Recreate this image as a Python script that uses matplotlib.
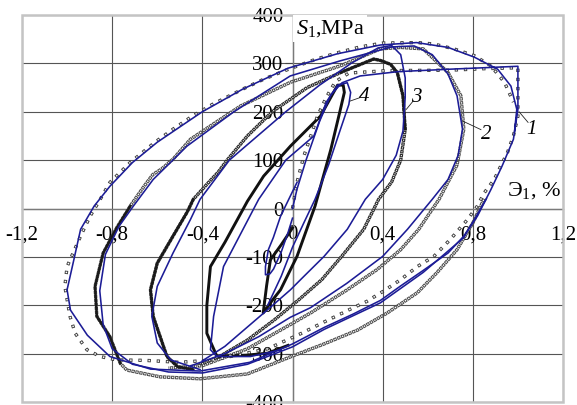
import numpy as np
import matplotlib as mpl
mpl.use('Agg')
import matplotlib.pyplot as plt
from matplotlib.patches import Rectangle
from matplotlib.ticker import FuncFormatter

plt.rcParams['font.family'] = ['Liberation Serif', 'DejaVu Serif']
plt.rcParams['mathtext.fontset'] = 'custom'
plt.rcParams['mathtext.rm'] = 'Liberation Serif'
plt.rcParams['mathtext.it'] = 'Liberation Serif:italic'
plt.rcParams['axes.unicode_minus'] = False
plt.rcParams['lines.scale_dashes'] = False

# (strain %, stress MPa)
loop1_model = [(0.0, 0), (0.02, 40), (0.06, 100), (0.12, 180), (0.17, 235), (0.22, 260),
               (0.3, 274), (0.47, 283), (0.7, 288), (1.0, 294), (1.0, 250), (1.0, 205),
               (0.98, 143), (0.93, 88), (0.88, 39), (0.82, -16), (0.76, -57), (0.69, -92),
               (0.58, -128), (0.48, -160), (0.39, -190), (0.27, -218), (0.14, -246),
               (0.0, -280), (-0.19, -318), (-0.41, -336), (-0.63, -332), (-0.81, -306),
               (-0.91, -262), (-0.985, -210), (-1.0, -168), (-0.97, -106), (-0.94, -43),
               (-0.88, 5), (-0.81, 46), (-0.71, 95), (-0.6, 137), (-0.47, 178), (-0.4, 200),
               (-0.22, 247), (-0.02, 290), (0.2, 320), (0.39, 338), (0.55, 343), (0.69, 333),
               (0.806, 313), (0.91, 288), (0.969, 253), (0.995, 205), (0.985, 160)]

loop1_test = [(0.0, 0), (0.02, 54), (0.05, 108), (0.07, 135), (0.11, 190), (0.15, 230),
              (0.19, 262), (0.25, 280), (0.42, 285), (0.7, 286), (0.85, 289), (1.0, 291),
              (1.0, 233), (1.0, 191), (0.98, 150), (0.954, 116), (0.924, 88), (0.895, 60),
              (0.85, 32), (0.82, 5), (0.776, -23), (0.7, -64), (0.627, -99), (0.554, -120),
              (0.48, -147), (0.413, -168), (0.33, -192), (0.27, -205), (0.13, -237),
              (0.04, -258), (-0.11, -290), (-0.35, -313), (-0.5, -318), (-0.65, -314),
              (-0.78, -313), (-0.853, -306), (-0.912, -292), (-0.964, -258), (-0.987, -223),
              (-1.0, -188), (-1.01, -161), (-1.0, -120), (-0.94, -57), (-0.898, -16),
              (-0.853, 19), (-0.81, 54), (-0.72, 95), (-0.61, 137), (-0.53, 164),
              (-0.444, 191), (-0.356, 215), (-0.22, 247), (-0.129, 267), (-0.04, 284),
              (0.1, 308), (0.2, 322), (0.3, 334), (0.4, 342), (0.554, 343), (0.627, 340),
              (0.716, 330), (0.806, 316), (0.88, 295), (0.94, 261), (0.98, 220)]

loop2_model = [(0.86, 20), (0.76, -60), (0.58, -132), (0.39, -195), (0.14, -250),
               (0.0, -286), (-0.2, -322), (-0.4, -340), (-0.55, -338), (-0.71, -322),
               (-0.8, -290), (-0.84, -240), (-0.855, -170), (-0.83, -95), (-0.77, -37),
               (-0.706, 5), (-0.618, 60), (-0.468, 129), (-0.26, 200), (-0.01, 274),
               (0.21, 305), (0.44, 334), (0.54, 336), (0.62, 318), (0.69, 278), (0.73, 233),
               (0.754, 164), (0.735, 110), (0.69, 60), (0.62, 19), (0.51, -43), (0.4, -99),
               (0.24, -155), (0.08, -205), (-0.01, -225), (-0.15, -265), (-0.3, -300),
               (-0.45, -325)]

loop2_test = [(0.85, 20), (0.8, -30), (0.73, -85), (0.64, -133), (0.554, -174),
              (0.42, -216), (0.29, -251), (0.14, -280), (0.0, -305), (-0.2, -342),
              (-0.41, -352), (-0.587, -348), (-0.735, -334), (-0.764, -320), (-0.81, -265),
              (-0.868, -223), (-0.876, -161), (-0.84, -92), (-0.78, -40), (-0.72, 5),
              (-0.66, 45), (-0.62, 70), (-0.58, 82), (-0.53, 102), (-0.453, 143),
              (-0.35, 175), (-0.23, 212), (-0.009, 261), (0.213, 295), (0.39, 330),
              (0.48, 333), (0.58, 330), (0.69, 281), (0.747, 233), (0.76, 164), (0.73, 90),
              (0.65, 19), (0.56, -43), (0.48, -85), (0.376, -126), (0.243, -168),
              (0.08, -216), (-0.01, -240), (-0.2, -290), (-0.4, -325), (-0.55, -330)]

loop3_model = [(-0.41, -333), (-0.54, -313), (-0.6, -278), (-0.624, -223), (-0.6, -161),
               (-0.53, -92), (-0.453, -23), (-0.41, 19), (-0.28, 100), (-0.03, 200),
               (0.12, 255), (0.26, 300), (0.38, 332), (0.44, 337), (0.48, 318), (0.5, 270),
               (0.5, 230), (0.49, 160), (0.46, 110), (0.4, 60), (0.323, 19), (0.243, -43),
               (0.14, -99), (0.036, -147), (-0.009, -168), (-0.1, -205), (-0.2, -245),
               (-0.3, -285), (-0.4, -315)]

loop3_test = [(-0.44, -333), (-0.51, -327), (-0.557, -306), (-0.587, -265), (-0.618, -223),
              (-0.63, -168), (-0.6, -113), (-0.53, -57), (-0.468, -8), (-0.44, 19),
              (-0.38, 50), (-0.33, 75), (-0.29, 100), (-0.2, 150), (-0.09, 200), (0.065, 250),
              (0.213, 281), (0.36, 309), (0.39, 306), (0.435, 298), (0.465, 281), (0.49, 233),
              (0.5, 164), (0.48, 100), (0.44, 55), (0.382, 19), (0.316, -43), (0.218, -99),
              (0.13, -147), (0.027, -189), (-0.08, -230), (-0.2, -272), (-0.32, -305),
              (-0.42, -325)]

loop4_model_start = [(0.02, 54), (0.0, 35), (-0.053, -16), (-0.085, -60), (-0.107, -85),
                     (-0.12, -120), (-0.12, -137), (-0.1, -135), (-0.084, -125), (-0.05, -90),
                     (-0.02, -50), (0.0, -20)]

loop4_model = [(-0.11, -200), (-0.05, -140), (0.0, -80), (0.05, -30), (0.1, 19), (0.16, 90),
               (0.21, 160), (0.25, 215), (0.258, 240), (0.243, 260), (0.2, 255), (0.15, 220),
               (0.095, 150), (-0.03, 100), (-0.15, 19), (-0.306, -120), (-0.35, -223),
               (-0.364, -292), (-0.335, -306), (-0.187, -306), (-0.05, -292)]

loop4_test = [(0.0, -40), (-0.05, -75), (-0.098, -106), (-0.115, -160), (-0.13, -216),
              (-0.09, -190), (-0.053, -168), (0.02, -99), (0.1, 5), (0.17, 122), (0.21, 200),
              (0.23, 240), (0.225, 255), (0.2, 255), (0.124, 191), (-0.009, 129),
              (-0.128, 67), (-0.2, 15), (-0.3, -70), (-0.364, -120), (-0.38, -200),
              (-0.38, -258), (-0.335, -306), (-0.2, -303), (-0.11, -299), (-0.02, -283)]

# stretches of the test curves where the squares merge into a solid black band
dark_parts = [(loop2_test, 13, 20), (loop3_test, 0, 10), (loop3_test, 16, 23)]

curve_labels = ['1', '2', '3', '4']
label_pos = [(1.06, 163), (0.86, 153), (0.55, 230), (0.32, 232)]
leader_from = [(1.005, 200), (0.754, 181), (0.505, 205), (0.255, 222)]
leader_to = [(1.045, 178), (0.836, 163), (0.535, 222), (0.298, 229)]

x_ticks = [-1.2, -0.8, -0.4, 0, 0.4, 0.8, 1.2]
y_ticks = [-400, -300, -200, -100, 0, 100, 200, 300, 400]

BLUE = '#1c1c96'


def xy(points):
    a = np.array(points, dtype=float)
    return a[:, 0], a[:, 1]


def model(ax, points):
    x, s = xy(points)
    ax.plot(x, s, color=BLUE, lw=1.15, solid_joinstyle='round', zorder=4)


def squares(ax, points, color, lw, on, off, inner):
    # open square markers faked by a dark dashed line with a thinner white one on top
    x, s = xy(points)
    period = on + off
    d = (lw - inner) / 2
    ax.plot(x, s, color=color, lw=lw, ls=(0, (on, off)), zorder=3)
    ax.plot(x, s, color='white', lw=inner,
            ls=(period - d, (on - 2 * d, period - on + 2 * d)), zorder=3.1)


fig = plt.figure(figsize=(5.77, 4.05), dpi=100)
ax = fig.add_axes([22 / 577, 3 / 405, 541 / 577, 387 / 405])

squares(ax, loop1_test, '#3c3c3c', 2.4, 2.4, 4.2, 1.1)
squares(ax, loop2_test, '#4a4a4a', 2.4, 2.4, 0.5, 1.0)
squares(ax, loop3_test, '#2a2a2a', 2.4, 2.4, 0.4, 0.8)
for pts, i0, i1 in dark_parts:
    x, s = xy(pts[i0:i1])
    ax.plot(x, s, color='#1a1a1a', lw=1.8, solid_joinstyle='round', zorder=3.2)
x4, s4 = xy(loop4_test)
ax.plot(x4, s4, color='#111111', lw=2.1, solid_joinstyle='round', zorder=3)

for pts in [loop1_model, loop2_model, loop3_model, loop4_model_start, loop4_model]:
    model(ax, pts)

for txt, p, a, b in zip(curve_labels, label_pos, leader_from, leader_to):
    ax.plot([a[0], b[0]], [a[1], b[1]], color='#222222', lw=0.6, zorder=5)
    ax.text(p[0], p[1], txt, fontsize=15, style='italic', ha='center', va='center', zorder=5)

ax.set_xlim(-1.2, 1.2)
ax.set_ylim(-400, 400)
ax.set_xticks(x_ticks)
ax.set_yticks(y_ticks)
ax.xaxis.set_major_formatter(FuncFormatter(lambda v, p: '0' if abs(v) < 1e-9 else f'{v:.1f}'.replace('.', ',')))
ax.yaxis.set_major_formatter(FuncFormatter(lambda v, p: f'{v:.0f}'))
ax.grid(True, color='#555555', lw=0.8)
ax.set_axisbelow(True)

for side in ['top', 'right']:
    ax.spines[side].set_visible(False)
ax.spines['left'].set_position('zero')
ax.spines['bottom'].set_position('zero')
for side in ['left', 'bottom']:
    ax.spines[side].set_color('#7a7a7a')
    ax.spines[side].set_linewidth(1.0)
ax.add_patch(Rectangle((0, 0), 1, 1, transform=ax.transAxes, fill=False,
                       ec='#c4c4c4', lw=1.8, clip_on=False, zorder=6))

ax.tick_params(axis='x', length=0, pad=12, labelsize=15)
ax.tick_params(axis='y', direction='out', length=6, width=0.8, color='#444444', pad=0.5, labelsize=15)

ax.text(0.015, 372, '$S_1$,MPa', fontsize=16, ha='left', va='center', zorder=7,
        bbox=dict(fc='white', ec='none', pad=2))
ax.text(1.19, 38, 'Э$_1$, %', fontsize=16, ha='right', va='center', zorder=7)

fig.savefig('out.png', dpi=100)
